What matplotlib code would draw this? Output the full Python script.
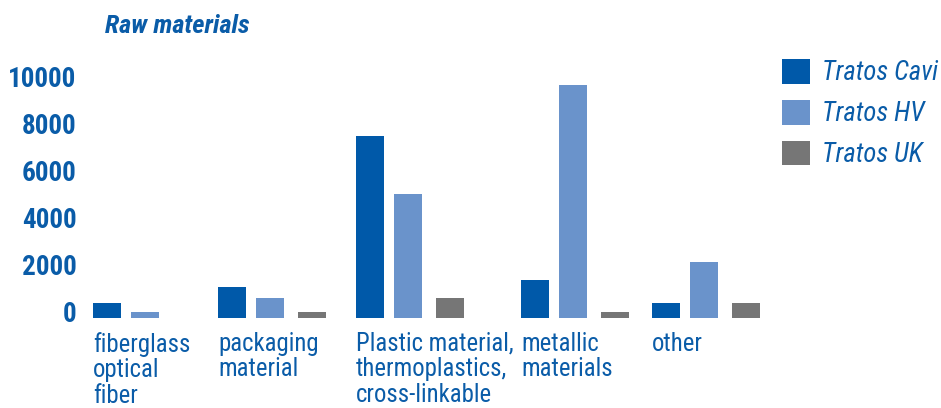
import matplotlib
matplotlib.use("Agg")
from matplotlib import pyplot as plt
from matplotlib.transforms import ScaledTranslation
import numpy as np

plt.rcParams['font.family'] = ['Roboto Condensed', 'Roboto', 'DejaVu Sans']

# data
categories = ["fiberglass\noptical\nfiber", "packaging\nmaterial",
              "Plastic material,\nthermoplastics,\ncross-linkable",
              "metallic\nmaterials", "other"]
series = ["Tratos Cavi", "Tratos HV", "Tratos UK"]
cavi = [620, 1300, 7750, 1600, 620]
hv = [240, 850, 5250, 9900, 2370]
uk = [0, 240, 850, 240, 620]
y_ticks = [0, 2000, 4000, 6000, 8000, 10000]

# layout (pixel-like units): left edge of each category slot, bar offsets
slot_left = np.array([93, 218, 356, 521, 652])
bar_offset = [0, 38, 80]
bar_width = 28
colors = ["#0059A9", "#6A93CB", "#767676"]
text_blue = "#0A5CA8"

W, H = 941, 408
fig = plt.figure(figsize=(W / 100, H / 100), dpi=100)
base_y = 317.7
top_y = 82.7
ax = fig.add_axes([85 / W, (H - base_y) / H, (W - 85) / W, (base_y - top_y) / H])

for vals, off, col, name in zip([cavi, hv, uk], bar_offset, colors, series):
    ax.bar(slot_left + off, vals, bar_width, align='edge', color=col,
           label=name, clip_on=False)

ax.set_xlim(85, W)
ax.set_ylim(0, 10000)
for s in ax.spines.values():
    s.set_visible(False)

ax.set_yticks(y_ticks)
ax.set_yticklabels([str(v) for v in y_ticks], fontsize=19.5, fontweight='bold',
                   color=text_blue)
ax.tick_params(axis='y', length=0, pad=6)
for lab in ax.get_yticklabels():
    lab.set_transform(lab.get_transform() + ScaledTranslation(0, 6 / 100, fig.dpi_scale_trans))

ax.set_xticks(slot_left)
ax.set_xticklabels(categories, fontsize=17.8, color=text_blue, ha='left',
                   linespacing=1.1)
ax.tick_params(axis='x', length=0, pad=10)

fig.text(105 / W, (H - 33) / H, "Raw materials", fontsize=19,
         fontweight='bold', fontstyle='italic', color=text_blue, va='baseline')

leg = fig.legend(loc='upper left', bbox_to_anchor=(782 / W, (H - 59) / H),
                 frameon=False, borderpad=0, borderaxespad=0,
                 handlelength=1.05, handleheight=1.05, labelspacing=0.5,
                 handletextpad=0.45, labelcolor=text_blue,
                 prop={'style': 'italic', 'size': 19.2})

fig.savefig("out.png", dpi=100)
